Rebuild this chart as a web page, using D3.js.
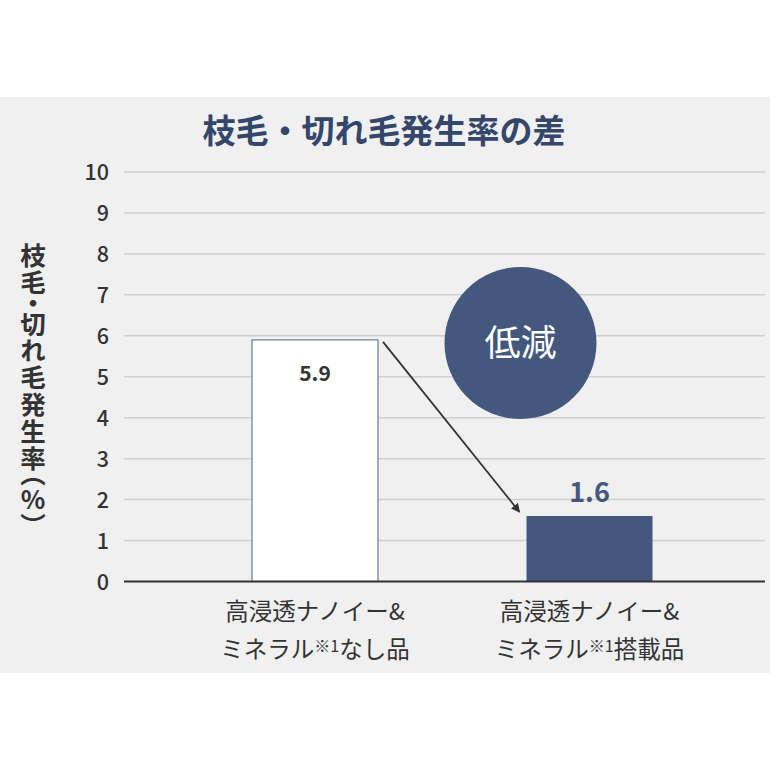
<!DOCTYPE html>
<html>
<head>
<meta charset="utf-8">
<script src="https://cdn.jsdelivr.net/npm/d3@7"></script>
<style>
  body { margin: 0; background: #fff; }
  text { font-family: "Noto Sans CJK JP", "Noto Sans", sans-serif; }
</style>
</head>
<body>
<div id="chart"></div>
<script>
// data
const categories = ["なし品", "搭載品"];
const labelLine1 = ["高浸透ナノイー&", "高浸透ナノイー&"];
const labelLine2 = [["ミネラル", "※1", "なし品"], ["ミネラル", "※1", "搭載品"]];
const values = [5.9, 1.6];
const yTicks = [0, 1, 2, 3, 4, 5, 6, 7, 8, 9, 10];

const w = 770, h = 770;
const navy = "#44587e";
const dark = "#333333";

const svg = d3.select("#chart").append("svg")
  .attr("width", w)
  .attr("height", h);

// gray panel
svg.append("rect")
  .attr("x", 0).attr("y", 97)
  .attr("width", w).attr("height", 576)
  .attr("fill", "#f0f0f0");

const yScale = d3.scaleLinear().domain([0, 10]).range([581.5, 172]);
const xScale = d3.scaleBand()
  .domain(categories)
  .range([177.75, 726.75])
  .paddingInner(0.541)
  .paddingOuter(0.2705);

// grid lines
svg.append("g")
  .selectAll("line")
  .data(yTicks.filter(d => d > 0))
  .enter()
  .append("line")
  .attr("x1", 124).attr("x2", 765)
  .attr("y1", d => yScale(d)).attr("y2", d => yScale(d))
  .attr("stroke", "#cfcfcf")
  .attr("stroke-width", 1.5);

// y axis labels
const yAxis = d3.axisLeft(yScale).tickValues(yTicks).tickSize(0).tickPadding(0);
const yg = svg.append("g")
  .attr("transform", "translate(109,0)")
  .call(yAxis);
yg.select(".domain").remove();
yg.selectAll("text")
  .attr("font-size", 21.5)
  .attr("font-weight", 500)
  .attr("fill", dark)
  .attr("dy", "0.36em");

// bars
svg.selectAll("rect.bar")
  .data(values)
  .enter()
  .append("rect")
  .attr("class", "bar")
  .attr("x", (d, i) => xScale(categories[i]))
  .attr("y", d => yScale(d))
  .attr("width", xScale.bandwidth())
  .attr("height", d => yScale(0) - yScale(d))
  .attr("fill", (d, i) => i === 0 ? "#ffffff" : navy)
  .attr("stroke", (d, i) => i === 0 ? "#6b7b98" : "none")
  .attr("stroke-width", 1.2);

// baseline
svg.append("line")
  .attr("x1", 124).attr("x2", 765)
  .attr("y1", yScale(0)).attr("y2", yScale(0))
  .attr("stroke", dark)
  .attr("stroke-width", 2.2);

// value labels
svg.append("text")
  .attr("x", xScale(categories[0]) + xScale.bandwidth() / 2)
  .attr("y", yScale(values[0]) + 41)
  .attr("text-anchor", "middle")
  .attr("font-size", 21)
  .attr("font-weight", 700)
  .attr("fill", dark)
  .text(values[0].toFixed(1));

svg.append("text")
  .attr("x", xScale(categories[1]) + xScale.bandwidth() / 2)
  .attr("y", yScale(values[1]) - 14)
  .attr("text-anchor", "middle")
  .attr("font-size", 27)
  .attr("font-weight", 700)
  .attr("fill", navy)
  .text(values[1].toFixed(1));

// arrow
svg.append("defs").append("marker")
  .attr("id", "arr")
  .attr("viewBox", "0 0 10 10")
  .attr("refX", 9).attr("refY", 5)
  .attr("markerWidth", 9).attr("markerHeight", 9)
  .attr("markerUnits", "userSpaceOnUse")
  .attr("orient", "auto")
  .append("path")
  .attr("d", "M0,0 L10,5 L0,10 Z")
  .attr("fill", dark);

svg.append("line")
  .attr("x1", xScale(categories[0]) + xScale.bandwidth() + 5)
  .attr("y1", yScale(values[0]) + 2)
  .attr("x2", xScale(categories[1]) - 7)
  .attr("y2", yScale(values[1]) - 4)
  .attr("stroke", dark)
  .attr("stroke-width", 1.8)
  .attr("marker-end", "url(#arr)");

// circle badge
svg.append("circle")
  .attr("cx", 520.5).attr("cy", 343)
  .attr("r", 76)
  .attr("fill", navy);
svg.append("text")
  .attr("x", 520.5).attr("y", 356)
  .attr("text-anchor", "middle")
  .attr("font-size", 36)
  .attr("font-weight", 400)
  .attr("fill", "#ffffff")
  .text("低減");

// title
svg.append("text")
  .attr("x", 384).attr("y", 143)
  .attr("text-anchor", "middle")
  .attr("font-size", 33)
  .attr("font-weight", 700)
  .attr("fill", "#34466a")
  .text("枝毛・切れ毛発生率の差");

// y axis title (vertical)
svg.append("text")
  .attr("x", 33).attr("y", 243)
  .style("writing-mode", "vertical-rl")
  .style("text-orientation", "upright")
  .style("font-feature-settings", "'vpal'")
  .style("letter-spacing", "1.5px")
  .attr("font-size", 25.5)
  .attr("font-weight", 700)
  .attr("fill", dark)
  .text("枝毛・切れ毛発生率（%）");

// x labels
const xl = svg.append("g");
categories.forEach((c, i) => {
  const cx = xScale(c) + xScale.bandwidth() / 2;
  xl.append("text")
    .attr("x", cx).attr("y", 620)
    .attr("text-anchor", "middle")
    .attr("font-size", 23.5)
    .attr("fill", dark)
    .text(labelLine1[i]);
  const t = xl.append("text")
    .attr("x", cx).attr("y", 658)
    .attr("text-anchor", "middle")
    .attr("font-size", 23.5)
    .attr("fill", dark);
  t.append("tspan").text(labelLine2[i][0]);
  t.append("tspan").attr("font-size", 16).attr("dy", -6).text(labelLine2[i][1]);
  t.append("tspan").attr("dy", 6).text(labelLine2[i][2]);
});
</script>
</body>
</html>
